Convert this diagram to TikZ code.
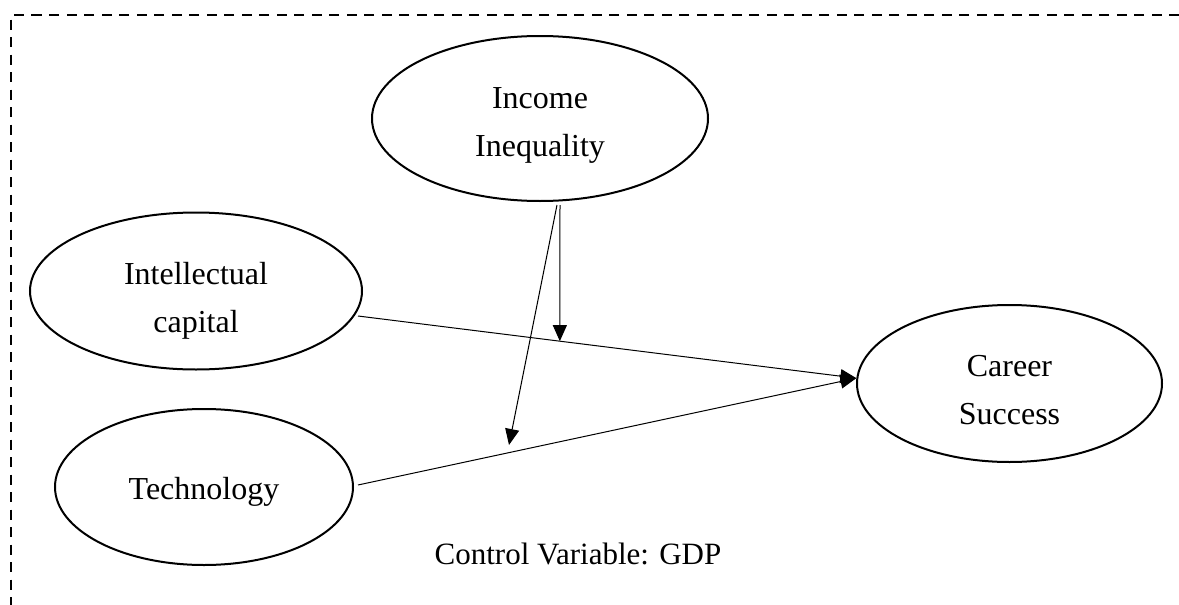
\documentclass[tikz,border=0pt]{standalone}
\usepackage{fontspec}
\setmainfont{Liberation Serif}
\usetikzlibrary{shapes.geometric,arrows.meta,calc}
\begin{document}
\begin{tikzpicture}[x=1pt,y=-1pt,
  var/.style={draw, ellipse, line width=2pt, inner sep=0pt},
  vtxt/.style={align=center, inner sep=0pt, font=\fontsize{32}{48}\selectfont},
  conn/.style={line width=1pt, -{Triangle[length=16pt,width=14pt]}},
  lbl/.style={font=\fontsize{31}{38}\selectfont, inner sep=0pt}]
\path[use as bounding box] (0,0) rectangle (1179,605);
\draw[line width=2pt, dash pattern=on 10pt off 7.5pt] (1179,15) -- (11,15) -- (11,605);

\node[var, minimum width=336pt, minimum height=165pt] (inc) at (540,118.5) {};
\node[var, minimum width=332pt, minimum height=157pt] (intel) at (196,291) {};
\node[var, minimum width=298pt, minimum height=156pt] (tech) at (204,487) {};
\node[var, minimum width=305pt, minimum height=157pt] (car) at (1009.5,383.5) {};
\node[vtxt] (inct) at ($(inc)+(0,7)$) {Income\\Inequality};
\node[vtxt] (intelt) at ($(intel)+(0,10)$) {Intellectual\\capital};
\node[vtxt] (techt) at ($(tech)+(0,5)$) {Technology};
\node[vtxt] (cart) at ($(car)+(0,7)$) {Career\\Success};
\node[lbl] (ctrl) at (578,554) {Control Variable: GDP};

\coordinate (m1) at (560,205);
\coordinate (m2) at (557,205);
\coordinate (d2) at (509,445);
\coordinate (is) at (358,316);
\coordinate (ts) at (358,485);

\draw[conn] (is) -- (car.178);
\draw[conn] (ts) -- (car.178);
\coordinate (m1end) at ($(is)!0.405!(car.178)$);
\draw[conn] (m1) -- (m1end);
\draw[conn] (m2) -- (d2);
\end{tikzpicture}
\end{document}
